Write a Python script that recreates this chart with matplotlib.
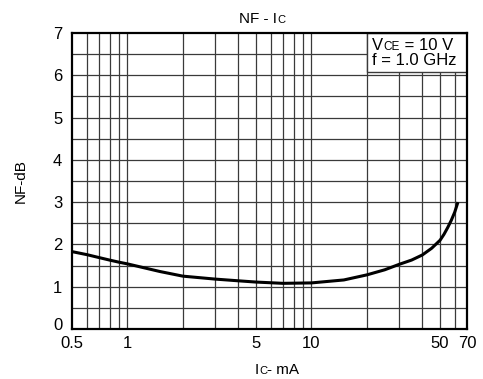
import matplotlib
matplotlib.use("Agg")
import matplotlib.pyplot as plt
from matplotlib.patches import Rectangle
from matplotlib.transforms import ScaledTranslation

plt.rcParams['font.family'] = ['Liberation Sans', 'DejaVu Sans']

# NF vs collector current
ic_ma = [0.5, 0.6, 0.7, 0.8, 0.9, 1.0, 1.5, 2, 3, 4, 5, 7, 10, 15, 20, 25, 30, 35, 40, 45,
         50, 52.5, 55, 57.5, 60, 62.5]
nf_db = [1.83, 1.76, 1.69, 1.63, 1.58, 1.54, 1.36, 1.25, 1.18, 1.14, 1.11, 1.08, 1.09, 1.16,
         1.28, 1.40, 1.53, 1.63, 1.75, 1.91, 2.10, 2.24, 2.40, 2.57, 2.76, 3.00]

xticks = [0.5, 1, 5, 10, 50, 70]
xtick_labels = ["0.5", "1", "5", "10", "50", "70"]
xgrid = [0.6, 0.7, 0.8, 0.9, 1, 2, 3, 4, 5, 6, 7, 8, 9, 10, 20, 30, 40, 50, 60]
yticks = [0, 1, 2, 3, 4, 5, 6, 7]

W, H = 483, 379
fig = plt.figure(figsize=(W / 100, H / 100), dpi=100)
ax = fig.add_axes([72 / W, 1 - 329 / H, 395 / W, 296 / H])
renderer = fig.canvas.get_renderer()


def mixed_text(x_px, y_px, parts, ha='left', zorder=6):
    """Write pieces of text side by side on one baseline (pixels from top-left)."""
    arts = []
    widths = []
    for s, size in parts:
        t = fig.text(0, 0, s, fontsize=size, ha='left', va='baseline', zorder=zorder)
        widths.append(t.get_window_extent(renderer).width)
        arts.append(t)
    total = sum(widths)
    x = x_px - (total / 2 if ha == 'center' else 0)
    for t, w in zip(arts, widths):
        t.set_position((x / W, 1 - y_px / H))
        x += w


ax.set_xscale('log')
ax.set_xlim(0.5, 70)
ax.set_ylim(0, 7)

grid_kw = dict(color='#3a3a3a', lw=0.9, zorder=1)
for x in xgrid:
    ax.axvline(x, **grid_kw)
for k in range(1, 14):
    ax.axhline(k * 0.5, **grid_kw)

ax.plot(ic_ma, nf_db, color='black', lw=2.2, zorder=3, solid_capstyle='butt')

ax.set_xticks(xticks)
ax.set_xticklabels(xtick_labels)
ax.minorticks_off()
ax.set_yticks(yticks)
ax.tick_params(length=0, labelsize=12)
ax.tick_params(axis='x', pad=5)
ax.tick_params(axis='y', pad=7)
lab0 = ax.get_yticklabels()[0]
lab0.set_transform(lab0.get_transform() + ScaledTranslation(0, 3.5 / 72, fig.dpi_scale_trans))

for s in ax.spines.values():
    s.set_linewidth(1.6)
    s.set_color('black')
    s.set_zorder(5)

# condition box in the top right corner
ax.add_patch(Rectangle((0.747, 0.868), 0.253, 0.132, transform=ax.transAxes,
                       fc='white', ec='#3a3a3a', lw=1.0, zorder=4))
mixed_text(372, 50, [("V", 12), ("CE", 8.5), (" = 10 V", 12)])
mixed_text(372, 65, [("f = 1.0 GHz", 12)])

# title and axis labels
mixed_text(262, 23, [("NF - I", 11), ("C", 8)], ha='center')
mixed_text(277, 374, [("I", 11), ("C", 8), ("- mA", 11)], ha='center')
fig.text(21 / W, 1 - 181 / H, "NF-dB", rotation=90, fontsize=11, ha='center', va='center')

fig.savefig("out.png", dpi=100)
